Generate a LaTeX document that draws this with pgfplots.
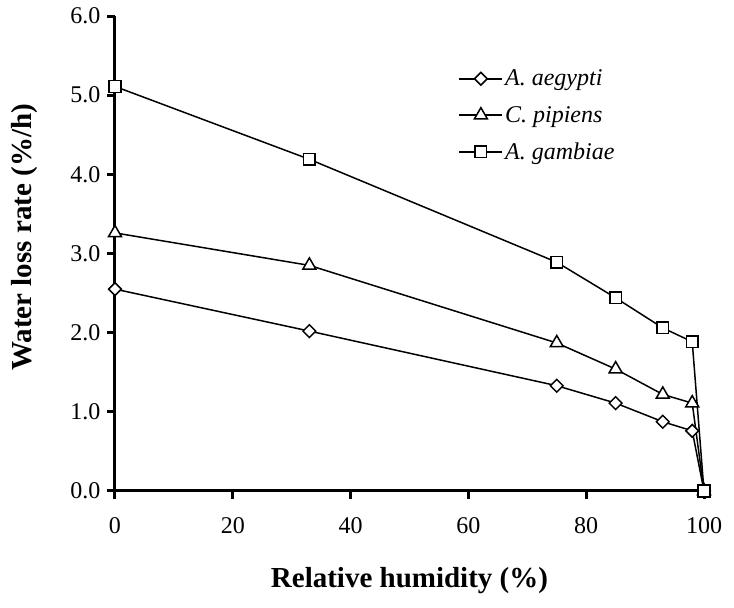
\documentclass[border=0pt]{standalone}
\usepackage{fontspec}
\setmainfont{Liberation Serif}
\usepackage{pgfplots}
\pgfplotsset{compat=1.18}
\begin{document}
\begin{tikzpicture}
\useasboundingbox (-115pt,-117pt) rectangle (619pt,491pt);
\begin{axis}[
  at={(0,0)}, anchor=south west,
  width=589pt, height=475pt, scale only axis,
  xmin=0, xmax=100, ymin=0, ymax=6,
  axis x line*=bottom, axis y line*=left,
  axis line style={line width=3pt, -},
  xtick={0,20,...,100}, ytick={0,1,...,6},
  tick align=outside, major tick length=8pt,
  every tick/.append style={line width=3pt, black},
  xticklabel={\pgfmathprintnumber[assume math mode=true]{\tick}},
  yticklabel={\pgfmathprintnumber[assume math mode=true, fixed, fixed zerofill, precision=1]{\tick}},
  yticklabel style={font=\fontsize{24}{28}\selectfont, xshift=-3pt},
  xticklabel style={font=\fontsize{24}{28}\selectfont, yshift=-15pt},
  xlabel={Relative humidity (\%)},
  ylabel={Water loss rate (\%/h)},
  label style={font=\fontsize{29}{34}\selectfont\bfseries},
  xlabel style={at={(axis description cs:0.5,-0.204)}, anchor=base},
  ylabel style={at={(axis description cs:-0.153,0.534)}, anchor=center},
  clip=false,
  legend style={draw=none, fill=none, at={(0.578,0.895)}, anchor=north west,
    font=\fontsize{24}{28}\selectfont\itshape, row sep=15pt},
  legend cell align=left,
  legend image code/.code={
    \draw[mark repeat=2, mark phase=2] plot coordinates {(0pt,0pt) (21.5pt,0pt) (43pt,0pt)};},
]
\addplot[black, line width=1.5pt, mark=square*, mark size=4.5pt,
  mark options={rotate=45, fill=white, line width=1.5pt}] coordinates {
  (0,2.55) (33,2.02) (75,1.33) (85,1.11) (93,0.875) (98,0.76) (100,0.0)};
\addlegendentry{A. aegypti}
\addplot[black, line width=1.5pt, mark=triangle*, mark size=7.5pt,
  mark options={fill=white, line width=1.5pt}] coordinates {
  (0,3.26) (33,2.85) (75,1.87) (85,1.54) (93,1.22) (98,1.11) (100,0.0)};
\addlegendentry{C. pipiens}
\addplot[black, line width=1.5pt, mark=square*, mark size=5.8pt,
  mark options={fill=white, line width=1.5pt}] coordinates {
  (0,5.11) (33,4.19) (75,2.89) (85,2.44) (93,2.06) (98,1.885) (100,0.0)};
\addlegendentry{A. gambiae}
\end{axis}
\end{tikzpicture}
\end{document}
